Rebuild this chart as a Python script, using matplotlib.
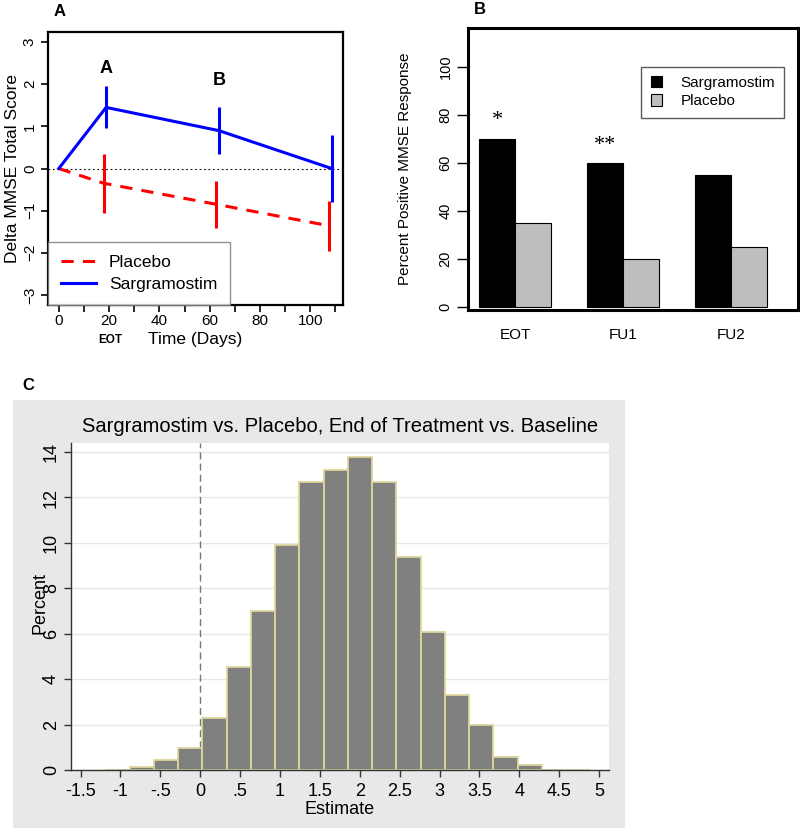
import matplotlib
matplotlib.use('Agg')
import matplotlib.pyplot as plt
from matplotlib import font_manager
from matplotlib.patches import Rectangle, Patch
from matplotlib.lines import Line2D
from matplotlib.transforms import blended_transform_factory

names = {f.name for f in font_manager.fontManager.ttflist}
SANS = 'Liberation Sans' if 'Liberation Sans' in names else 'DejaVu Sans'
NARROW = 'Liberation Sans Narrow' if 'Liberation Sans Narrow' in names else SANS
SERIF = 'Liberation Serif' if 'Liberation Serif' in names else 'DejaVu Serif'
plt.rcParams['font.family'] = [SANS, 'DejaVu Sans']

# ---------------- Panel A data ----------------
sarg_days = [0, 18.8, 63.6, 108.5]
sarg_mean = [0.0, 1.45, 0.90, 0.00]
sarg_lo = [0.0, 0.95, 0.35, -0.80]
sarg_hi = [0.0, 1.95, 1.45, 0.80]
plac_days = [0, 17.8, 62.6, 107.5]
plac_mean = [0.0, -0.35, -0.85, -1.36]
plac_lo = [0.0, -1.05, -1.42, -1.95]
plac_hi = [0.0, 0.35, -0.30, -0.77]
xticks_a = [0, 10, 20, 30, 40, 50, 60, 70, 80, 90, 100, 110]
xticklabels_a = ['0', '', '20', '', '40', '', '60', '', '80', '', '100', '']
yticks_a = [-3, -2, -1, 0, 1, 2, 3]
yticklabels_a = ['\u22123', '\u22122', '\u22121', '0', '1', '2', '3']

# ---------------- Panel B data ----------------
visits = ['EOT', 'FU1', 'FU2']
sarg_pct = [70, 60, 55]
plac_pct = [35, 20, 25]
sig_marks = ['*', '**', '']
yticks_b = [0, 20, 40, 60, 80, 100]

# ---------------- Panel C data ----------------
bin_edges = [-1.19, -0.886, -0.582, -0.278, 0.026, 0.33, 0.634, 0.938, 1.242,
             1.546, 1.85, 2.154, 2.458, 2.762, 3.066, 3.37, 3.674, 3.978,
             4.282, 4.586, 4.89]
bin_pct = [0.02, 0.12, 0.45, 0.95, 2.27, 4.55, 7.0, 9.9, 12.68, 13.19, 13.78,
           12.68, 9.37, 6.08, 3.3, 1.97, 0.57, 0.23, 0.02, 0.02]
xticks_c = [-1.5, -1, -0.5, 0, 0.5, 1, 1.5, 2, 2.5, 3, 3.5, 4, 4.5, 5]
xticklabels_c = ['-1.5', '-1', '-.5', '0', '.5', '1', '1.5', '2', '2.5', '3',
                 '3.5', '4', '4.5', '5']
yticks_c = [0, 2, 4, 6, 8, 10, 12, 14]

W, H = 800, 830
fig = plt.figure(figsize=(W / 100, H / 100), dpi=100)


def fx(px):
    return px / W


def fy(py):
    return 1 - py / H


# ================= Panel A =================
axA = fig.add_axes([fx(48), fy(305), fx(295), (305 - 32) / H])
axA.axhline(0, color='black', lw=0.8, ls=(0, (1.5, 2.5)), zorder=1)
axA.plot(plac_days, plac_mean, color='#ff0000', lw=2.2, ls=(0, (4, 3)), zorder=3)
axA.plot(sarg_days, sarg_mean, color='#0000ff', lw=2.2, zorder=3)
axA.vlines(plac_days[1:], plac_lo[1:], plac_hi[1:], color='#ff0000', lw=2.2, zorder=3)
axA.vlines(sarg_days[1:], sarg_lo[1:], sarg_hi[1:], color='#0000ff', lw=2.2, zorder=3)
axA.text(sarg_days[1], 2.37, 'A', fontsize=13, fontweight='bold', ha='center', va='center')
axA.text(sarg_days[2], 2.08, 'B', fontsize=13, fontweight='bold', ha='center', va='center')
axA.set_xlim(-4.3, 113)
axA.set_ylim(-3.24, 3.24)
axA.set_xticks(xticks_a)
axA.set_xticklabels(xticklabels_a)
axA.set_yticks(yticks_a)
axA.set_yticklabels(yticklabels_a)
axA.tick_params(axis='both', direction='out', length=5, width=1.2, labelsize=11, pad=1.5)
axA.tick_params(axis='y', labelrotation=90, pad=3)
for lab in axA.get_yticklabels():
    lab.set_va('center')
for s in axA.spines.values():
    s.set_linewidth(1.6)
axA.set_ylabel('Delta MMSE Total Score', fontsize=12.5)
axA.yaxis.set_label_coords(-0.095, 0.5)
axA.set_xlabel('Time (Days)', fontsize=12.5)
axA.xaxis.set_label_coords(0.5, -0.098)
trA = blended_transform_factory(axA.transData, fig.transFigure)
axA.text(20.5, fy(340), 'EOT', transform=trA, fontsize=8.5, fontweight='bold',
         ha='center', va='center')
legA = axA.legend(handles=[Line2D([], [], color='#ff0000', lw=2.2, ls=(0, (4, 3))),
                           Line2D([], [], color='#0000ff', lw=2.2)],
                  labels=['Placebo', 'Sargramostim'], loc='lower left',
                  bbox_to_anchor=(0, 0), borderaxespad=0, fontsize=12.5,
                  frameon=True, fancybox=False, edgecolor='#777777',
                  handlelength=2.0, handletextpad=0.75, borderpad=0.75,
                  labelspacing=0.4)
legA.get_frame().set_linewidth(1.0)
fig.text(fx(60), fy(12), 'A', fontsize=12, fontweight='bold', ha='center', va='center')

# ================= Panel B =================
axB = fig.add_axes([fx(468), fy(310), fx(330), (310 - 28) / H])
group_x = [2, 5, 8]
sx = [g - 0.5 for g in group_x]
px_ = [g + 0.5 for g in group_x]
axB.bar(sx, sarg_pct, width=1, color='black', edgecolor='black', lw=0.8)
axB.bar(px_, plac_pct, width=1, color='#bebebe', edgecolor='black', lw=0.8)
for x, v, m in zip(sx, sarg_pct, sig_marks):
    if m:
        axB.text(x, v + 7.5 - (0 if m == '*' else 0.5), m, fontsize=16,
                 family=SERIF, ha='center', va='center')
axB.set_xlim(0.686, 9.85)
axB.set_ylim(-1.4, 116.1)
axB.set_yticks(yticks_b)
axB.set_xticks(group_x)
axB.set_xticklabels(visits)
axB.tick_params(axis='x', length=0, pad=13, labelsize=11)
axB.tick_params(axis='y', direction='out', length=8, width=1, labelsize=10.5,
                labelrotation=90, pad=3)
for lab in axB.get_yticklabels():
    lab.set_va('center')
for s in axB.spines.values():
    s.set_linewidth(2.2)
axB.set_ylabel('Percent Positive MMSE Response', fontsize=11)
axB.yaxis.set_label_coords(-0.17, 0.5)
legB = axB.legend(handles=[Patch(facecolor='black', edgecolor='black', lw=0.8),
                           Patch(facecolor='#bebebe', edgecolor='black', lw=0.8)],
                  labels=['Sargramostim', 'Placebo'], loc='upper left',
                  bbox_to_anchor=(5.5, 100), bbox_transform=axB.transData,
                  borderaxespad=0, fontsize=11, frameon=True, fancybox=False,
                  edgecolor='#333333', handlelength=0.75, handleheight=0.75,
                  handletextpad=1.2, borderpad=0.6, labelspacing=0.3)
legB.get_frame().set_linewidth(1.0)
fig.text(fx(480), fy(10), 'B', fontsize=12, fontweight='bold', ha='center', va='center')

# ================= Panel C =================
bg = Rectangle((fx(13), fy(828)), fx(612), (828 - 400) / H,
               transform=fig.transFigure, facecolor='#e8e8e8',
               edgecolor='none', zorder=-10)
fig.add_artist(bg)
axC = fig.add_axes([fx(71), fy(770), fx(537.7), (770 - 443) / H])
axC.set_facecolor('white')
lefts = bin_edges[:-1]
widths = [b - a for a, b in zip(bin_edges[:-1], bin_edges[1:])]
axC.bar(lefts, bin_pct, width=widths, align='edge', color='#808080',
        edgecolor='#dcd59c', lw=1.3, zorder=3)
axC.axvline(0, color='#777777', lw=1.0, ls=(0, (5, 3)), zorder=2)
axC.set_xlim(-1.62, 5.12)
axC.set_ylim(0, 14.4)
axC.set_xticks(xticks_c)
axC.set_xticklabels(xticklabels_c)
axC.set_yticks(yticks_c)
axC.grid(axis='y', color='#e6e6e6', lw=1.0, zorder=0)
axC.set_axisbelow(True)
for side in ['top', 'right']:
    axC.spines[side].set_visible(False)
for side in ['left', 'bottom']:
    axC.spines[side].set_color('#333333')
    axC.spines[side].set_linewidth(1.0)
    axC.spines[side].set_zorder(4)
axC.tick_params(axis='both', direction='out', length=5, width=1, color='#333333',
                labelsize=13)
axC.tick_params(axis='x', pad=4)
axC.tick_params(axis='y', labelrotation=90, pad=3)
for lab in axC.get_xticklabels() + axC.get_yticklabels():
    lab.set_family([NARROW, 'DejaVu Sans'])
for lab in axC.get_yticklabels():
    lab.set_va('center')
axC.set_xlabel('Estimate', fontsize=13, family=[NARROW, 'DejaVu Sans'], labelpad=1)
axC.set_ylabel('Percent', fontsize=13, family=[NARROW, 'DejaVu Sans'])
axC.yaxis.set_label_coords(-0.042, 0.51)
axC.set_title('Sargramostim vs. Placebo, End of Treatment vs. Baseline',
              fontsize=14.5, family=[NARROW, 'DejaVu Sans'], pad=8)
fig.text(fx(28), fy(385), 'C', fontsize=12, fontweight='bold', ha='center', va='center')

fig.savefig('out.png', dpi=100)
